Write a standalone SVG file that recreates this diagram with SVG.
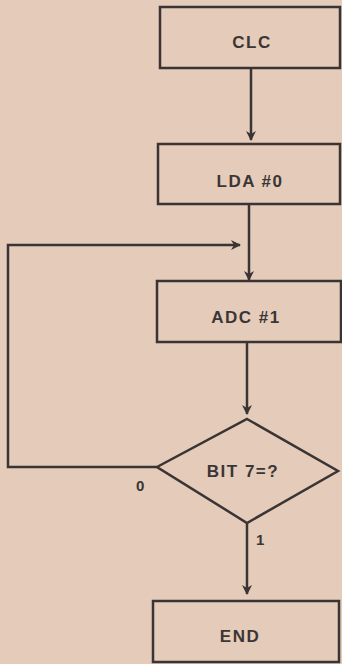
<svg xmlns="http://www.w3.org/2000/svg" width="342" height="664" viewBox="0 0 342 664">
<defs>
<style>
.box{fill:none;stroke:#3a3434;stroke-width:2.5}
.ln{fill:none;stroke:#3a3434;stroke-width:2.5}
.t{font-family:"Liberation Sans",Arial,sans-serif;font-size:17px;font-weight:bold;fill:#3b3636;text-anchor:middle;letter-spacing:1.5px}
.l{font-family:"Liberation Sans",Arial,sans-serif;font-size:15px;fill:#3b3636;font-weight:bold}
</style>
<marker id="ah" markerWidth="10" markerHeight="12" refX="9" refY="5" orient="auto" markerUnits="userSpaceOnUse">
<path d="M0,0 L10,5 L0,10 L3,5 Z" fill="#3a3434"/>
</marker>
</defs>
<rect width="342" height="664" fill="#e5cbb9"/>
<g id="connectors">
<line class="ln" x1="251" y1="68" x2="251" y2="140" marker-end="url(#ah)"/>
<line class="ln" x1="249" y1="204" x2="249" y2="280" marker-end="url(#ah)"/>
<polyline class="ln" points="157,467 8,467 8,245 240,245" marker-end="url(#ah)"/>
<line class="ln" x1="247" y1="342" x2="247" y2="414" marker-end="url(#ah)"/>
<line class="ln" x1="247" y1="523" x2="247" y2="594" marker-end="url(#ah)"/>
<text class="l" x="136" y="491">0</text>
<text class="l" x="256" y="545">1</text>
</g>
<g id="clc">
<rect class="box" x="160" y="7" width="180" height="61"/>
<text class="t" x="252" y="48">CLC</text>
</g>
<g id="lda">
<rect class="box" x="158" y="144" width="182" height="60"/>
<text class="t" x="250" y="187">LDA #0</text>
</g>
<g id="adc">
<rect class="box" x="157" y="281" width="184" height="61"/>
<text class="t" x="246" y="323">ADC #1</text>
</g>
<g id="bit7">
<polygon class="box" points="247,419 338,471 247,523 157,467"/>
<text class="t" x="243" y="477">BIT 7=?</text>
</g>
<g id="end">
<rect class="box" x="153" y="601" width="186" height="61"/>
<text class="t" x="240" y="642">END</text>
</g>
</svg>
